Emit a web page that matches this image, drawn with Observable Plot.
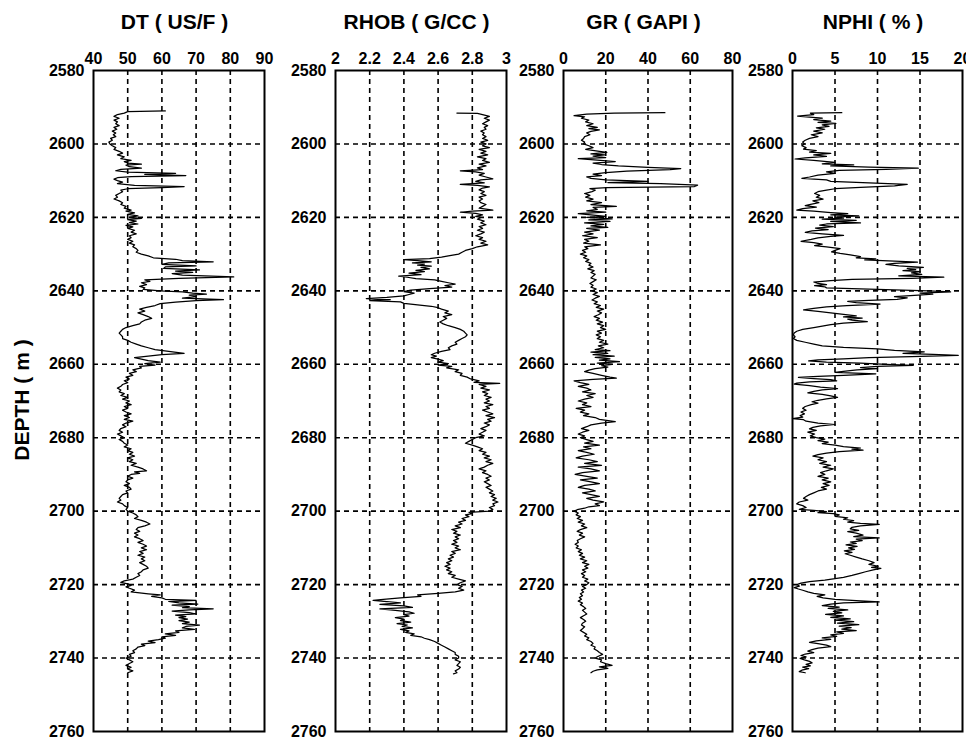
<!DOCTYPE html>
<html>
<head>
<meta charset="utf-8">
<script src="https://cdn.jsdelivr.net/npm/d3@7"></script>
<script src="https://cdn.jsdelivr.net/npm/@observablehq/plot@0.6"></script>
<style>
  html, body { margin: 0; padding: 0; background: #fff; overflow: hidden; }
  #root { position: relative; width: 966px; height: 740px; overflow: hidden; font-family: "Liberation Sans", Arial, sans-serif; }
  .ttl { position: absolute; top: 10px; font-size: 21px; font-weight: bold; text-align: center; color: #000; white-space: nowrap; }
  .ylab { position: absolute; left: 22px; top: 400px; transform: translate(-50%, -50%) rotate(-90deg); font-size: 21px; font-weight: bold; white-space: nowrap; }
</style>
</head>
<body>
<div id="root"></div>
<script>
// ---- data (depth m, value) ----
const depthTicks = [2580, 2600, 2620, 2640, 2660, 2680, 2700, 2720, 2740, 2760];
const titles = ["DT ( US/F )", "RHOB ( G/CC )", "GR ( GAPI )", "NPHI ( % )"];
const dtTicks = [40, 50, 60, 70, 80, 90];
const rhobTicks = [2, 2.2, 2.4, 2.6, 2.8, 3];
const grTicks = [0, 20, 40, 60, 80];
const nphiTicks = [0, 5, 10, 15, 20];

const DT = [[2591,61],[2591.2,50],[2591.6,49],[2592,47],[2592.5,46],[2593,47.5],[2593.5,46],[2594,47],[2594.5,46.5],[2595,47.5],[2595.5,46],[2596,46.8],[2596.5,45.5],[2597,46.5],[2597.5,45.8],[2598,46.5],[2598.5,45],[2599,45.5],[2599.5,44.5],[2600,44.8],[2600.5,45.5],[2601,46.5],[2601.5,46],[2602,47.5],[2602.5,48.5],[2603,47],[2603.5,49],[2604,48],[2604.5,51],[2604.8,49],[2605.2,50],[2605.5,54],[2605.8,49.5],[2606.2,50.5],[2606.6,54],[2606.9,48],[2607.3,46.5],[2607.7,50],[2608,64],[2608.3,55],[2608.6,67],[2608.9,51],[2609.2,47],[2609.6,46],[2610,47],[2610.4,48.5],[2610.8,47],[2611.3,52],[2611.6,66.5],[2611.9,60],[2612.2,50],[2612.6,48],[2613,48.5],[2613.5,47.5],[2614,46.5],[2614.5,47],[2615,46],[2615.5,47.5],[2616,48.5],[2616.5,48],[2617,49.5],[2617.5,49],[2618,51],[2618.3,49.5],[2618.8,52],[2619.2,50],[2619.6,53],[2620,50.5],[2620.3,54],[2620.6,50],[2621,52.5],[2621.4,50.5],[2621.8,53],[2622.2,49.5],[2622.6,51.5],[2623,50],[2623.5,52],[2624,51],[2624.5,52.5],[2625,50.5],[2625.5,51],[2626,50],[2626.5,51.5],[2627,50.5],[2627.5,52],[2628,51.5],[2628.5,52.5],[2629,53],[2629.5,52.5],[2630,54],[2630.5,56],[2631,57.5],[2631.4,64],[2631.8,66],[2632.1,75],[2632.4,62],[2632.8,60],[2633.2,70],[2633.5,61],[2633.9,60.5],[2634.3,71],[2634.6,64],[2635,69],[2635.3,63],[2635.7,66],[2636.2,81],[2636.6,65],[2637,55],[2637.4,56.5],[2637.8,54],[2638.3,55.5],[2638.8,53.5],[2639.2,55],[2639.6,54.5],[2640,59.5],[2640.3,66],[2640.6,69],[2640.9,73],[2641.2,68],[2641.6,70],[2642,66],[2642.4,78],[2642.7,70],[2643.1,64],[2643.5,59.5],[2644,58],[2644.5,55.5],[2645,53.5],[2645.5,55],[2646,53],[2646.5,54.5],[2647,56],[2647.5,57],[2648,55],[2648.5,54],[2649,53.5],[2649.5,51.5],[2650,49.5],[2650.5,48.5],[2651,48],[2651.5,47.5],[2652,48],[2652.5,48.5],[2653,48.5],[2653.5,50],[2654,51],[2654.5,52.5],[2655,54],[2655.5,56],[2656,58],[2656.5,62],[2657,66.5],[2657.4,60],[2657.8,56],[2658.2,52],[2658.6,54],[2659,56],[2659.4,59.5],[2659.8,55],[2660.2,58],[2660.6,53.5],[2661,54],[2661.5,51.5],[2662,52.5],[2662.5,50.5],[2663,51.5],[2663.5,49.5],[2664,50.5],[2664.5,49],[2665,50],[2665.5,48.5],[2666,48],[2666.5,47],[2667,48],[2667.5,47.5],[2668,49],[2668.5,48],[2669,50],[2669.5,48.5],[2670,50.5],[2670.5,49.5],[2671,51],[2671.5,49],[2672,50],[2672.5,48.5],[2673,49.5],[2673.5,51],[2674,49],[2674.5,50.5],[2675,49],[2675.5,51.5],[2676,49.5],[2676.5,48.5],[2677,49.5],[2677.5,48],[2678,47.5],[2678.5,48.5],[2679,47],[2679.5,48],[2680,49],[2680.5,47.5],[2681,48.5],[2681.5,49],[2682,50],[2682.5,49],[2683,51],[2683.5,50],[2684,51.5],[2684.5,50.5],[2685,52],[2685.5,50],[2686,51.5],[2686.5,50.5],[2687,52.5],[2687.5,51],[2688,53],[2688.5,54.5],[2689,55.5],[2689.3,52],[2689.7,53.5],[2690,51],[2690.5,50],[2691,51.5],[2691.5,50],[2692,49.5],[2692.5,50.5],[2693,49],[2693.5,50.5],[2694,51],[2694.5,49.5],[2695,50],[2695.5,48.5],[2696,48],[2696.5,47.5],[2697,48],[2697.5,47],[2698,48.5],[2698.5,49],[2699,50],[2699.5,49.5],[2700,50],[2700.5,51.5],[2701,52.5],[2701.5,53],[2702,52],[2702.5,54],[2703,55.5],[2703.5,56.5],[2704,55],[2704.5,53],[2705,52.5],[2705.5,53.5],[2706,52],[2706.5,53],[2707,52],[2707.5,53.5],[2708,54.5],[2708.5,53],[2709,54.5],[2709.5,55.5],[2710,54],[2710.5,55.5],[2711,53.5],[2711.5,54.5],[2712,53],[2712.5,55],[2713,54],[2713.5,55],[2714,53.5],[2714.5,54.5],[2715,55.5],[2715.5,56],[2716,54.5],[2716.5,54],[2717,53],[2717.5,53.5],[2718,52.5],[2718.5,51.5],[2719,49],[2719.4,48],[2719.8,50],[2720.2,51],[2720.6,49.5],[2721,50.5],[2721.5,52],[2722,51],[2722.5,56],[2722.8,59.5],[2723.2,57],[2723.6,60],[2724,61],[2724.3,70],[2724.6,62],[2725,65],[2725.3,70.5],[2725.6,63],[2726,68],[2726.3,66],[2726.6,75],[2726.9,68],[2727.2,63],[2727.6,68],[2728,70],[2728.3,64],[2728.7,67],[2729,65],[2729.4,67.5],[2729.8,65],[2730.2,68],[2730.6,66],[2731,71],[2731.4,67],[2731.8,66],[2732.2,69.5],[2732.6,64],[2733,65],[2733.4,61],[2733.8,64],[2734.2,60],[2734.6,61],[2735,59],[2735.4,56],[2735.8,58],[2736.2,54],[2736.6,55],[2737,53],[2737.5,52.5],[2738,51.5],[2738.5,52],[2739,50.5],[2739.5,51],[2740,49.5],[2740.5,50.5],[2741,51.5],[2741.5,50.5],[2742,49.5],[2742.5,51],[2743,50],[2743.5,51.5],[2744,50]];

const RHOB = [[2591.6,2.71],[2591.7,2.83],[2592,2.86],[2592.5,2.9],[2593,2.87],[2593.5,2.9],[2594,2.88],[2594.5,2.86],[2595,2.89],[2595.5,2.87],[2596,2.88],[2596.5,2.85],[2597,2.87],[2597.5,2.86],[2598,2.88],[2598.5,2.86],[2599,2.89],[2599.5,2.85],[2600,2.88],[2600.5,2.86],[2601,2.9],[2601.5,2.84],[2602,2.88],[2602.5,2.85],[2603,2.89],[2603.5,2.83],[2604,2.88],[2604.5,2.86],[2605,2.9],[2605.5,2.84],[2606,2.88],[2606.5,2.83],[2607,2.86],[2607.3,2.73],[2607.6,2.82],[2608,2.87],[2608.5,2.84],[2609,2.88],[2609.5,2.92],[2609.8,2.85],[2610.2,2.82],[2610.6,2.87],[2611,2.73],[2611.3,2.83],[2611.7,2.9],[2612,2.86],[2612.5,2.84],[2613,2.87],[2613.5,2.85],[2614,2.88],[2614.5,2.84],[2615,2.86],[2615.5,2.84],[2616,2.85],[2616.5,2.88],[2617,2.86],[2617.5,2.84],[2618,2.92],[2618.3,2.8],[2618.6,2.73],[2618.9,2.82],[2619.3,2.86],[2619.7,2.82],[2620,2.85],[2620.5,2.83],[2621,2.87],[2621.5,2.85],[2622,2.88],[2622.5,2.84],[2623,2.86],[2623.5,2.83],[2624,2.87],[2624.5,2.85],[2625,2.82],[2625.5,2.86],[2626,2.84],[2626.5,2.88],[2627,2.85],[2627.5,2.89],[2628,2.83],[2628.5,2.8],[2629,2.76],[2629.5,2.74],[2630,2.72],[2630.5,2.66],[2630.8,2.62],[2631.2,2.55],[2631.5,2.4],[2631.8,2.48],[2632.1,2.56],[2632.4,2.45],[2632.7,2.52],[2633,2.48],[2633.3,2.56],[2633.6,2.5],[2634,2.55],[2634.4,2.47],[2634.8,2.52],[2635.2,2.43],[2635.6,2.5],[2636,2.37],[2636.3,2.42],[2636.7,2.47],[2637,2.58],[2637.4,2.62],[2637.8,2.66],[2638.2,2.7],[2638.6,2.64],[2639,2.68],[2639.4,2.55],[2639.8,2.44],[2640.2,2.4],[2640.6,2.46],[2641,2.43],[2641.4,2.4],[2641.8,2.3],[2642.1,2.18],[2642.4,2.32],[2642.7,2.2],[2643,2.38],[2643.4,2.4],[2643.8,2.48],[2644.2,2.56],[2644.6,2.6],[2645,2.62],[2645.5,2.66],[2646,2.64],[2646.5,2.68],[2647,2.63],[2647.5,2.65],[2648,2.63],[2648.5,2.61],[2649,2.63],[2649.5,2.66],[2650,2.7],[2650.5,2.73],[2651,2.75],[2651.5,2.76],[2652,2.77],[2652.5,2.76],[2653,2.74],[2653.5,2.72],[2654,2.7],[2654.5,2.71],[2655,2.68],[2655.5,2.66],[2656,2.67],[2656.5,2.62],[2657,2.58],[2657.4,2.56],[2657.8,2.59],[2658.2,2.56],[2658.6,2.6],[2659,2.63],[2659.4,2.6],[2659.8,2.66],[2660.2,2.6],[2660.6,2.68],[2661,2.65],[2661.5,2.72],[2662,2.7],[2662.5,2.74],[2663,2.73],[2663.5,2.77],[2664,2.79],[2664.5,2.84],[2664.9,2.81],[2665.2,2.96],[2665.5,2.84],[2666,2.88],[2666.5,2.85],[2667,2.9],[2667.5,2.86],[2668,2.89],[2668.5,2.87],[2669,2.91],[2669.5,2.88],[2670,2.9],[2670.5,2.87],[2671,2.92],[2671.5,2.88],[2672,2.9],[2672.5,2.86],[2673,2.89],[2673.5,2.92],[2674,2.88],[2674.5,2.93],[2675,2.89],[2675.5,2.91],[2676,2.87],[2676.5,2.9],[2677,2.88],[2677.5,2.85],[2678,2.88],[2678.5,2.86],[2679,2.84],[2679.5,2.87],[2680,2.82],[2680.5,2.8],[2681,2.78],[2681.5,2.76],[2682,2.8],[2682.5,2.83],[2683,2.86],[2683.5,2.84],[2684,2.88],[2684.5,2.86],[2685,2.9],[2685.5,2.87],[2686,2.91],[2686.5,2.88],[2687,2.92],[2687.5,2.89],[2688,2.87],[2688.5,2.84],[2689,2.88],[2689.5,2.86],[2690,2.89],[2690.5,2.91],[2691,2.88],[2691.5,2.9],[2692,2.87],[2692.5,2.89],[2693,2.91],[2693.5,2.88],[2694,2.9],[2694.5,2.92],[2695,2.9],[2695.5,2.93],[2696,2.91],[2696.5,2.94],[2697,2.92],[2697.5,2.95],[2698,2.92],[2698.5,2.93],[2699,2.9],[2699.5,2.92],[2700,2.9],[2700.3,2.78],[2700.7,2.8],[2701,2.76],[2701.5,2.78],[2702,2.74],[2702.5,2.76],[2703,2.72],[2703.5,2.74],[2704,2.7],[2704.5,2.73],[2705,2.68],[2705.5,2.71],[2706,2.69],[2706.5,2.73],[2707,2.7],[2707.5,2.72],[2708,2.69],[2708.5,2.71],[2709,2.68],[2709.5,2.72],[2710,2.7],[2710.5,2.73],[2711,2.68],[2711.5,2.7],[2712,2.67],[2712.5,2.69],[2713,2.66],[2713.5,2.68],[2714,2.65],[2714.5,2.67],[2715,2.64],[2715.5,2.67],[2716,2.65],[2716.5,2.68],[2717,2.66],[2717.5,2.7],[2718,2.68],[2718.5,2.72],[2719,2.76],[2719.5,2.73],[2720,2.71],[2720.5,2.74],[2721,2.72],[2721.5,2.75],[2722,2.7],[2722.4,2.6],[2722.8,2.48],[2723.2,2.5],[2723.6,2.38],[2724,2.28],[2724.3,2.22],[2724.6,2.3],[2725,2.38],[2725.4,2.26],[2725.8,2.4],[2726.2,2.45],[2726.6,2.26],[2727,2.35],[2727.4,2.43],[2727.8,2.46],[2728.2,2.4],[2728.6,2.43],[2729,2.35],[2729.4,2.4],[2729.8,2.38],[2730.2,2.44],[2730.6,2.36],[2731,2.42],[2731.4,2.39],[2731.8,2.45],[2732.2,2.38],[2732.6,2.43],[2733,2.41],[2733.4,2.46],[2733.8,2.44],[2734.2,2.5],[2734.6,2.52],[2735,2.55],[2735.5,2.58],[2736,2.6],[2736.5,2.62],[2737,2.64],[2737.5,2.66],[2738,2.68],[2738.5,2.7],[2739,2.7],[2739.5,2.72],[2740,2.72],[2740.5,2.7],[2741,2.73],[2741.5,2.72],[2742,2.71],[2742.5,2.73],[2743,2.72],[2743.5,2.7],[2744,2.71],[2744.3,2.69]];

const GR = [[2591.5,48],[2591.6,24],[2591.9,11],[2592.3,5],[2592.6,10],[2593,8.5],[2593.5,12],[2594,10.5],[2594.5,14],[2595,11],[2595.5,16],[2595.8,12],[2596.2,17],[2596.6,13],[2597,11],[2597.5,12.5],[2598,10],[2598.5,9.5],[2599,8.5],[2599.5,10],[2600,9.5],[2600.5,12],[2601,14],[2601.5,10.5],[2602,17],[2602.3,20.5],[2602.7,13],[2603,19.5],[2603.3,14],[2603.7,20],[2604,7],[2604.4,16],[2604.8,24.5],[2605.2,14],[2605.6,18],[2606,26],[2606.4,40],[2606.7,55.5],[2607,50.5],[2607.4,30],[2607.8,20],[2608.2,14],[2608.6,18],[2609,11],[2609.4,13],[2609.8,20],[2610.2,40],[2610.5,21],[2610.8,46],[2611.2,63.5],[2611.6,62],[2611.9,20.5],[2612.2,12.5],[2612.6,15],[2613,13.5],[2613.5,10],[2614,12.5],[2614.5,10.5],[2615,14],[2615.5,11],[2616,18],[2616.5,13],[2617,25],[2617.3,14],[2617.8,16],[2618.2,11],[2618.6,20],[2619,7],[2619.3,13],[2619.7,20],[2620,11],[2620.4,23],[2620.7,12],[2621.1,22],[2621.5,10],[2621.9,19],[2622.3,13],[2622.7,21],[2623,11],[2623.5,17],[2624,10],[2624.5,14],[2625,9],[2625.5,16],[2626,10],[2626.5,12],[2627,9.5],[2627.5,17.5],[2628,10],[2628.5,11.5],[2629,9],[2629.5,10.5],[2630,8],[2630.5,11],[2631,9.5],[2631.5,12],[2632,10.5],[2632.5,13],[2633,12],[2633.5,14],[2634,11.5],[2634.5,14.5],[2635,13],[2635.5,15],[2636,14],[2636.5,13],[2637,15.5],[2637.5,14],[2638,12.5],[2638.5,14],[2639,13],[2639.5,15.5],[2640,13.5],[2640.5,16],[2641,14],[2641.5,17],[2642,15],[2642.5,13.5],[2643,16],[2643.5,14.5],[2644,17.5],[2644.5,15.5],[2645,19],[2645.5,16],[2646,18],[2646.5,16.5],[2647,14.5],[2647.5,17],[2648,15.5],[2648.5,18.5],[2649,16],[2649.5,19],[2650,17.5],[2650.5,20],[2651,16],[2651.5,18],[2652,15.5],[2652.5,17.5],[2653,16],[2653.5,19],[2654,17],[2654.5,21],[2655,16.5],[2655.5,19],[2656,15],[2656.3,22],[2656.7,13],[2657,21],[2657.4,14],[2657.8,24],[2658.1,15],[2658.5,22],[2658.9,17],[2659.3,26.5],[2659.7,16],[2660,23],[2660.4,18],[2660.8,21],[2661.2,15],[2661.6,12],[2662,10],[2662.5,14],[2663,18],[2663.5,22],[2663.8,25],[2664.1,14],[2664.5,5],[2665,8],[2665.5,12],[2666,7],[2666.5,11],[2667,13],[2667.5,9],[2668,15],[2668.5,11],[2669,14],[2669.5,10],[2670,7],[2670.5,11],[2671,9],[2671.5,13],[2672,6],[2672.5,10],[2673,8],[2673.5,12],[2674,9.5],[2674.5,15],[2675,17],[2675.6,24.5],[2676,18],[2676.5,13],[2677,11],[2677.5,8.5],[2678,12],[2678.5,9],[2679,7],[2679.5,10],[2680,8],[2680.5,11],[2681,14],[2681.5,10],[2682,17],[2682.5,9.5],[2683,13],[2683.5,7],[2684,11],[2684.5,14.5],[2685,9],[2685.5,6],[2686,12],[2686.5,16],[2687,10],[2687.5,18],[2688,7],[2688.5,13],[2689,17],[2689.5,9],[2690,5.5],[2690.5,11],[2691,16],[2691.5,8],[2692,13],[2692.5,17],[2693,10],[2693.5,7],[2694,12],[2694.5,15],[2695,9],[2695.5,13],[2696,17],[2696.5,11],[2697,14],[2697.5,19],[2698,15],[2698.5,17],[2698.8,12],[2699.2,10],[2699.6,6.5],[2700,5],[2700.5,7],[2701,6],[2701.5,8],[2702,6.5],[2702.5,9],[2703,7],[2703.5,10],[2704,8.5],[2704.5,11],[2705,8],[2705.5,6.5],[2706,9],[2706.5,7.5],[2707,10],[2707.5,8],[2708,6.5],[2708.5,7],[2709,5.5],[2709.5,7],[2710,6],[2710.5,8.5],[2711,7],[2711.5,9],[2712,7.5],[2712.5,10],[2713,8],[2713.5,11],[2714,9],[2714.5,12],[2715,10],[2715.5,11.5],[2716,9],[2716.5,10.5],[2717,8.5],[2717.5,10],[2718,9],[2718.5,11.5],[2719,10],[2719.5,12],[2720,11],[2720.5,9],[2721,10.5],[2721.5,8.5],[2722,9.5],[2722.5,8],[2723,9],[2723.5,7.5],[2724,8.5],[2724.5,7],[2725,9],[2725.5,8],[2726,9.5],[2726.5,10.5],[2727,9],[2727.5,10],[2728,11],[2728.5,9.5],[2729,8],[2729.5,9.5],[2730,10.5],[2730.5,9],[2731,8.5],[2731.5,10],[2732,9],[2732.5,8],[2733,9.5],[2733.5,11],[2734,10],[2734.5,12],[2735,11],[2735.5,13],[2736,14],[2736.5,13],[2737,15],[2737.5,14.5],[2738,16],[2738.5,17],[2739,18.5],[2739.5,16.5],[2740,15],[2740.5,18],[2741,17.5],[2741.5,20],[2742,23],[2742.4,17],[2742.8,21],[2743.2,16],[2743.6,14],[2744,13]];

const NPHI = [[2591.5,5.8],[2591.6,2.1],[2592,2.5],[2592.4,0.6],[2592.7,2],[2593,3.5],[2593.4,2.5],[2593.8,4.5],[2594.1,3],[2594.4,5.1],[2594.8,3.5],[2595.2,4.3],[2595.6,2.8],[2596,3.8],[2596.5,2.5],[2597,3.5],[2597.5,2.2],[2598,3],[2598.5,2],[2599,1.5],[2599.5,1.2],[2600,1.4],[2600.5,1.1],[2601,1.6],[2601.4,1.3],[2601.8,2.8],[2602.2,2],[2602.6,4.5],[2603,2.5],[2603.4,4],[2603.8,1.5],[2604.1,0.3],[2604.5,2.5],[2605,5],[2605.4,3.5],[2605.7,7.2],[2606,4.5],[2606.3,9],[2606.6,14.8],[2606.9,11],[2607.2,5.5],[2607.6,4],[2608,5],[2608.5,3],[2609,2],[2609.4,1.1],[2609.8,4],[2610.2,4.5],[2610.6,9],[2611,13.5],[2611.4,12],[2611.8,8],[2612.2,5],[2612.6,4],[2613,3],[2613.5,2.6],[2614,3.2],[2614.5,2.8],[2615,3.6],[2615.5,2.4],[2616,3.1],[2616.5,2],[2616.8,1.5],[2617.2,2.8],[2617.6,1.2],[2618,0.5],[2618.3,2.5],[2618.7,4.5],[2619,6.5],[2619.3,4.5],[2619.6,7.8],[2619.9,5],[2620.2,6],[2620.5,3.5],[2620.8,7.5],[2621.1,4.5],[2621.5,8],[2621.8,4],[2622.1,3.2],[2622.5,4.8],[2622.9,2.7],[2623.3,4.2],[2623.7,2.3],[2624.1,1.5],[2624.5,3.5],[2624.9,6],[2625.2,4.5],[2625.6,3],[2626,2.2],[2626.5,1],[2626.9,2.5],[2627.3,3.5],[2627.7,2.6],[2628,4],[2628.5,5.6],[2629,5],[2629.4,4.6],[2629.8,5.6],[2630.2,6.8],[2630.7,8],[2631,7.5],[2631.3,9.8],[2631.6,8.5],[2631.9,12],[2632.2,14.7],[2632.5,12],[2632.8,11],[2633.2,12.5],[2633.6,15.4],[2633.9,13.5],[2634.2,14.5],[2634.5,13],[2634.8,15],[2635.1,14],[2635.5,15.2],[2635.9,12.5],[2636.3,17.8],[2636.6,14],[2636.9,7],[2637.2,4.5],[2637.6,2.5],[2638,3],[2638.3,4],[2638.6,2.6],[2638.9,3.8],[2639.2,4],[2639.6,10],[2640,16],[2640.3,18.6],[2640.6,15],[2640.9,16.5],[2641.2,14.8],[2641.6,12],[2641.9,13.5],[2642.3,12.3],[2642.6,9],[2642.9,6.5],[2643.2,7.5],[2643.6,10.3],[2644,6.4],[2644.4,4],[2644.8,2.5],[2645.2,1.3],[2645.6,3],[2646,4.5],[2646.4,6],[2646.8,7.5],[2647.1,6],[2647.4,8.2],[2647.7,6.5],[2648,7],[2648.4,8.8],[2648.8,6],[2649.2,4.5],[2649.6,3.5],[2650,2.5],[2650.5,1.2],[2651,0.5],[2651.5,0.2],[2652,0.1],[2652.5,0.3],[2653,0.1],[2653.5,0.5],[2654,1.5],[2654.5,2.5],[2655,3.5],[2655.4,6],[2655.8,10],[2656.2,12],[2656.6,15.5],[2657,13],[2657.3,16.5],[2657.6,19.5],[2657.9,14],[2658.2,9],[2658.5,6],[2658.8,3],[2659.1,1.9],[2659.4,4],[2659.7,8],[2660,11],[2660.3,14.2],[2660.6,10],[2660.9,8],[2661.2,10],[2661.5,7.6],[2661.8,6.5],[2662.2,5],[2662.6,9.8],[2663,6],[2663.3,3],[2663.6,0.7],[2663.9,2.5],[2664.2,4.5],[2664.5,5.2],[2664.8,2],[2665.1,0.5],[2665.4,0.2],[2665.8,2],[2666.2,3.3],[2666.6,5.3],[2667,3.5],[2667.4,2.5],[2667.8,1.8],[2668.2,3.5],[2668.6,4.5],[2669,5.3],[2669.4,4],[2669.8,3],[2670.2,2.3],[2670.6,3],[2671,2.2],[2671.5,1.5],[2672,1.2],[2672.5,1.6],[2673,1],[2673.5,1.4],[2674,0.9],[2674.4,1.2],[2674.8,0],[2675.1,1.3],[2675.5,1.6],[2676,3],[2676.4,5],[2676.8,3.3],[2677.2,2.4],[2677.6,2],[2678,2.8],[2678.5,1.8],[2679,2.6],[2679.5,2.1],[2680,2.8],[2680.4,3.8],[2680.8,3],[2681.2,4.2],[2681.6,3.5],[2682,5],[2682.4,6],[2682.8,8],[2683.1,7],[2683.4,8.3],[2683.8,5.5],[2684.2,4],[2684.6,3],[2685,2.4],[2685.5,3.6],[2686,3],[2686.5,4],[2687,3.2],[2687.5,4.5],[2688,3.6],[2688.5,4.8],[2689,4],[2689.5,3.3],[2690,3.8],[2690.5,3],[2691,4.2],[2691.5,3.5],[2692,4.5],[2692.5,3.6],[2693,4.3],[2693.5,3.4],[2694,4],[2694.5,3],[2695,2.5],[2695.5,2],[2696,1.6],[2696.5,1.3],[2697,1.8],[2697.5,0.8],[2698,0.5],[2698.5,1.2],[2699,1.6],[2699.5,0.8],[2699.8,2.5],[2700.1,4],[2700.4,3],[2700.7,4.8],[2701,5.5],[2701.4,5],[2701.8,6.5],[2702.2,6],[2702.6,7.2],[2703,6.5],[2703.3,8],[2703.6,10.2],[2704,8],[2704.4,7],[2704.8,6.8],[2705.2,7.8],[2705.6,6.5],[2706,7.5],[2706.5,8.3],[2706.9,7.2],[2707.3,10.2],[2707.6,7.5],[2708,8.2],[2708.4,6.8],[2708.8,7.5],[2709.2,6.3],[2709.6,7.6],[2710,6.6],[2710.4,7.3],[2710.8,6.1],[2711.2,7],[2711.6,6.2],[2712,6.8],[2712.5,7.5],[2713,8.2],[2713.5,9],[2714,9.6],[2714.5,9],[2715,10.1],[2715.3,9.3],[2715.6,10.4],[2716,9.5],[2716.5,8.6],[2717,7.8],[2717.5,7],[2718,6],[2718.4,5],[2718.8,3.8],[2719.2,2],[2719.6,1],[2720,0.5],[2720.4,0.8],[2720.8,0.2],[2721.2,0.7],[2721.6,1.3],[2722,1.8],[2722.4,2.5],[2722.8,3.8],[2723.2,2.9],[2723.6,3.6],[2724,5],[2724.4,8],[2724.7,10.2],[2725,6],[2725.3,4.5],[2725.7,3.5],[2726.1,5.5],[2726.5,4.2],[2726.9,6.5],[2727.3,4.8],[2727.7,5.8],[2728.1,3.9],[2728.5,6],[2728.9,4.5],[2729.3,6.8],[2729.7,5],[2730.1,7.2],[2730.5,5.3],[2730.9,7.8],[2731.3,5.5],[2731.7,6.9],[2732.1,5.8],[2732.5,7.5],[2732.9,5.2],[2733.3,6],[2733.7,4.5],[2734.1,5.2],[2734.5,3.5],[2734.9,4.5],[2735.3,2.8],[2735.7,2],[2736.1,3],[2736.5,4],[2736.9,4.5],[2737.3,3],[2737.7,2.3],[2738.1,1.8],[2738.5,2.5],[2738.9,1.5],[2739.3,1],[2739.7,1.6],[2740.1,0.9],[2740.5,1.4],[2740.9,2],[2741.3,2.3],[2741.7,1.6],[2742.1,2.1],[2742.5,1.2],[2742.9,1.9],[2743.3,1.1],[2743.7,0.8],[2744,1.5]];

// ---- layout ----
const root = document.getElementById("root");
const MT = 30, MB = 9, ML = 50, FH = 661;
const panels = [
  {data: DT,   ticks: dtTicks,   frameLeft: 93,  frameW: 171, mr: 14, title: titles[0], tshift: -4},
  {data: RHOB, ticks: rhobTicks, frameLeft: 335, frameW: 171, mr: 14, title: titles[1], tshift: -4},
  {data: GR,   ticks: grTicks,   frameLeft: 563, frameW: 169, mr: 14, title: titles[2], tshift: -4},
  {data: NPHI, ticks: nphiTicks, frameLeft: 792, frameW: 170, mr: 4,  title: titles[3], tshift: -4}
];

for (const p of panels) {
  const dom = [p.ticks[0], p.ticks[p.ticks.length - 1]];
  const interiorX = p.ticks.slice(1, -1);
  const interiorY = depthTicks.slice(1, -1);
  const chart = Plot.plot({
    width: ML + p.frameW + p.mr,
    height: MT + FH + MB,
    marginLeft: ML, marginRight: p.mr, marginTop: MT, marginBottom: MB,
    style: {background: "transparent", overflow: "visible", fontFamily: "'Liberation Sans', Arial, sans-serif", fontSize: "16px", fontWeight: "bold", color: "black"},
    x: {domain: dom, ticks: p.ticks, axis: "top", tickSize: 0, tickPadding: 7, label: null, tickFormat: d => String(d)},
    y: {domain: [depthTicks[depthTicks.length - 1], depthTicks[0]], ticks: depthTicks, tickSize: 0, tickPadding: 9, label: null, tickFormat: d => String(d)},
    marks: [
      Plot.ruleX(interiorX, {stroke: "black", strokeWidth: 1.6, strokeDasharray: "5,4"}),
      Plot.ruleY(interiorY, {stroke: "black", strokeWidth: 1.6, strokeDasharray: "5,4"}),
      Plot.line(p.data, {x: d => d[1], y: d => d[0], stroke: "black", strokeWidth: 1.25}),
      Plot.frame({stroke: "black", strokeWidth: 2})
    ]
  });
  chart.style.position = "absolute";
  chart.style.left = (p.frameLeft - ML) + "px";
  chart.style.top = (70 - MT) + "px";
  root.appendChild(chart);

  const t = document.createElement("div");
  t.className = "ttl";
  t.textContent = p.title;
  t.style.left = (p.frameLeft + p.tshift) + "px";
  t.style.width = p.frameW + "px";
  root.appendChild(t);
}

const yl = document.createElement("div");
yl.className = "ylab";
yl.textContent = "DEPTH ( m )";
root.appendChild(yl);
</script>
</body>
</html>
